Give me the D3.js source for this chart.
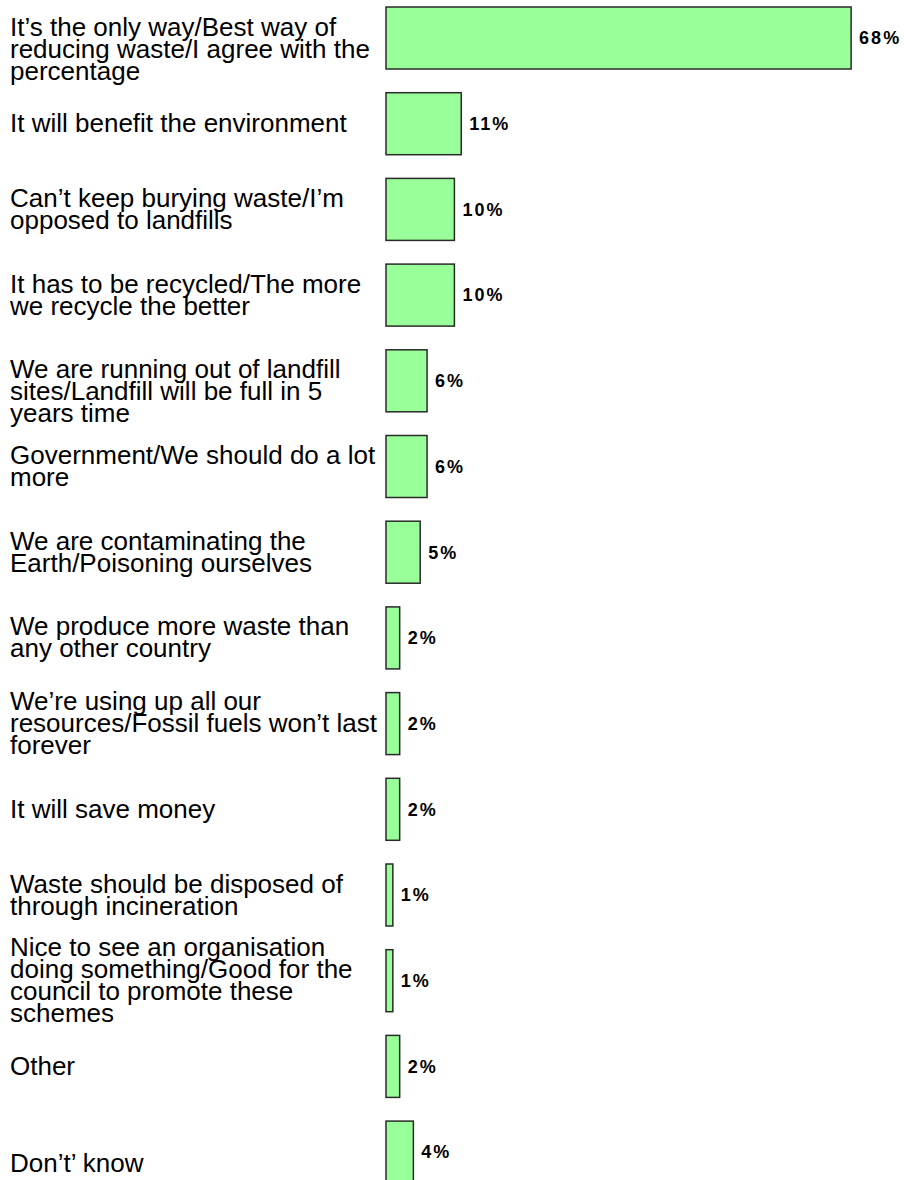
<!DOCTYPE html>
<html>
<head>
<meta charset="utf-8">
<script src="https://cdn.jsdelivr.net/npm/d3@7"></script>
<style>
  html, body { margin: 0; padding: 0; background: #fff; }
  svg { display: block; overflow: hidden; }
</style>
</head>
<body>
<div id="chart"></div>
<script>
// Reasons given for supporting the recycling target (% of respondents).
// Line breaks in each category are marked with "|"; a leading "|" keeps a blank first line.
const categories = [
  "|It’s the only way/Best way of|reducing waste/I agree with the|percentage",
  "It will benefit the environment",
  "Can’t keep burying waste/I’m|opposed to landfills",
  "It has to be recycled/The more|we recycle the better",
  "|We are running out of landfill|sites/Landfill will be full in 5|years time",
  "Government/We should do a lot|more",
  "We are contaminating the|Earth/Poisoning ourselves",
  "We produce more waste than|any other country",
  "We’re using up all our|resources/Fossil fuels won’t last|forever",
  "It will save money",
  "Waste should be disposed of|through incineration",
  "Nice to see an organisation|doing something/Good for the|council to promote these|schemes",
  "Other",
  "|Don’t’ know"
];
const values = [68, 11, 10, 10, 6, 6, 5, 2, 2, 2, 1, 1, 2, 4];
const valueLabels = ["68%", "11%", "10%", "10%", "6%", "6%", "5%", "2%", "2%", "2%", "1%", "1%", "2%", "4%"];

const width = 904, height = 1180;
const barLeft = 386;
const step = 85.7;
const pad = 0.2765;
const lineHeight = 22;
const fontFamily = "Arial, 'Liberation Sans', sans-serif";

const svg = d3.select("#chart").append("svg")
  .attr("width", width)
  .attr("height", height);

const x = d3.scaleLinear().domain([0, 100]).range([barLeft, barLeft + 684]);

const rangeTop = 7 - step * pad / 2;
const y = d3.scaleBand()
  .domain(d3.range(categories.length))
  .range([rangeTop, rangeTop + step * categories.length])
  .paddingInner(pad)
  .paddingOuter(pad / 2);

// Bars
svg.append("g").selectAll("rect")
  .data(values)
  .join("rect")
  .attr("x", x(0))
  .attr("y", (d, i) => y(i))
  .attr("width", d => x(d) - x(0))
  .attr("height", y.bandwidth())
  .attr("fill", "#99ff99")
  .attr("stroke", "#2a2a2a")
  .attr("stroke-width", 1.5);

// Value labels to the right of each bar
svg.append("g").selectAll("text")
  .data(values)
  .join("text")
  .attr("x", d => x(d) + 8)
  .attr("y", (d, i) => y(i) + y.bandwidth() / 2)
  .attr("dy", "0.35em")
  .attr("font-family", fontFamily)
  .attr("font-weight", "bold")
  .attr("font-size", 18)
  .attr("letter-spacing", 2)
  .attr("fill", "#000")
  .text((d, i) => valueLabels[i]);

// Category labels, multi-line with tight leading, centred on each bar
const labels = svg.append("g").selectAll("text")
  .data(categories)
  .join("text")
  .attr("font-family", fontFamily)
  .attr("font-size", 26)
  .attr("fill", "#000");

labels.each(function(d, i) {
  const lines = d.split("|");
  const cy = y(i) + y.bandwidth() / 2;
  const firstBaseline = cy - (lines.length - 1) * lineHeight / 2 + 8.5;
  const t = d3.select(this);
  lines.forEach((ln, k) => {
    t.append("tspan")
      .attr("x", 10)
      .attr("y", firstBaseline + k * lineHeight)
      .text(ln);
  });
});
</script>
</body>
</html>
